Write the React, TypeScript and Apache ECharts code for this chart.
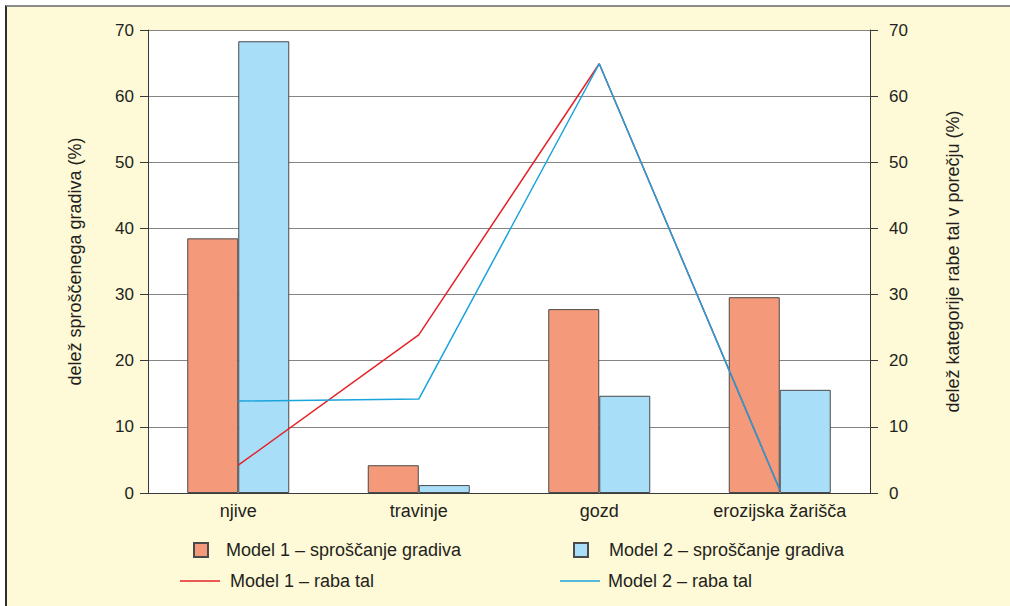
import React, { useEffect, useRef } from "react";
import * as echarts from "echarts";

const categories = ["njive", "travinje", "gozd", "erozijska žarišča"];
const model1Release = [38.5, 4.2, 27.8, 29.6];
const model2Release = [68.3, 1.2, 14.7, 15.6];
const model1Land = [4.2, 23.9, 64.9, 0.5];
const model2Land = [13.9, 14.2, 64.9, 0.5];
const yTicks = [0, 10, 20, 30, 40, 50, 60, 70];

const FONT = "Liberation Sans, Arial, sans-serif";
const TXT = "#231f20";

export default function App() {
  const ref = useRef<HTMLDivElement>(null);
  useEffect(() => {
    document.body.style.margin = "0";
    const chart = echarts.init(ref.current!, null, { renderer: "svg" });
    const yAxisBase = (pos: "left" | "right", name: string, gap: number, margin: number) => ({
      type: "value",
      position: pos,
      min: yTicks[0],
      max: yTicks[yTicks.length - 1],
      interval: 10,
      name,
      nameLocation: "middle",
      nameGap: gap,
      nameRotate: 90,
      nameTextStyle: { fontFamily: FONT, fontSize: 18, color: TXT },
      axisLine: { show: true, lineStyle: { color: "#3a3a3a", width: 1 } },
      axisTick: { show: true, length: 8, lineStyle: { color: "#3a3a3a", width: 1 } },
      axisLabel: { margin, fontFamily: FONT, fontSize: 17, color: TXT },
      splitLine: { show: pos === "left", lineStyle: { color: "#858585", width: 1 } },
    });
    const legendText = (pad: number) => ({ fontFamily: FONT, fontSize: 18, color: TXT, padding: [0, 0, 0, pad] });
    chart.setOption({
      animation: false,
      backgroundColor: "transparent",
      textStyle: { fontFamily: FONT },
      grid: {
        left: 148,
        right: 140,
        top: 30,
        bottom: 113,
        show: true,
        backgroundColor: "#ffffff",
        borderWidth: 0,
      },
      xAxis: {
        type: "category",
        data: categories,
        axisLine: { show: true, lineStyle: { color: "#3a3a3a", width: 1 } },
        axisTick: { show: false },
        axisLabel: { margin: 9, fontFamily: FONT, fontSize: 18, color: TXT },
      },
      yAxis: [
        yAxisBase("left", "delež sproščenega gradiva (%)", 64, 14),
        yAxisBase("right", "delež kategorije rabe tal v porečju (%)", 74, 19),
      ],
      legend: [
        {
          data: ["Model 1 – sproščanje gradiva"],
          icon: "rect",
          left: 193, top: 541, padding: 0, itemWidth: 14, itemHeight: 14,
          textStyle: legendText(13),
        },
        {
          data: ["Model 1 – raba tal"],
          icon: "rect",
          left: 180, top: 572, padding: 0, itemWidth: 40, itemHeight: 1.5,
          textStyle: legendText(5),
        },
        {
          data: ["Model 2 – sproščanje gradiva"],
          icon: "rect",
          left: 573, top: 541, padding: 0, itemWidth: 14, itemHeight: 14,
          textStyle: legendText(16),
        },
        {
          data: ["Model 2 – raba tal"],
          icon: "rect",
          left: 560, top: 572, padding: 0, itemWidth: 40, itemHeight: 1.5,
          textStyle: legendText(3),
        },
      ],
      series: [
        {
          name: "Model 1 – sproščanje gradiva",
          type: "bar",
          data: model1Release,
          barWidth: 51,
          barGap: "0%",
          itemStyle: { color: "#f49a7a", borderColor: "#4a4a4a", borderWidth: 1 },
        },
        {
          name: "Model 2 – sproščanje gradiva",
          type: "bar",
          data: model2Release,
          barWidth: 51,
          barGap: "0%",
          itemStyle: { color: "#a9def8", borderColor: "#4a4a4a", borderWidth: 1 },
        },
        {
          name: "Model 1 – raba tal",
          type: "line",
          yAxisIndex: 1,
          data: model1Land,
          symbol: "none",
          lineStyle: { color: "#e42328", width: 1.5 },
          itemStyle: { color: "#e42328" },
        },
        {
          name: "Model 2 – raba tal",
          type: "line",
          yAxisIndex: 1,
          data: model2Land,
          symbol: "none",
          lineStyle: { color: "#1ba3dc", width: 1.5 },
          itemStyle: { color: "#1ba3dc" },
        },
      ],
    });
    return () => chart.dispose();
  }, []);
  return (
    <div style={{ position: "relative", width: 1010, height: 606, background: "#ffffff", overflow: "hidden" }}>
      <div
        style={{
          position: "absolute",
          left: 5,
          top: 5,
          right: 0,
          bottom: 0,
          background: "#fef9d6",
          borderTop: "2px solid #8a8a8a",
          borderLeft: "2px solid #2e2e2e",
        }}
      />
      <div ref={ref} style={{ position: "absolute", left: 0, top: 0, width: 1010, height: 606 }} />
    </div>
  );
}
